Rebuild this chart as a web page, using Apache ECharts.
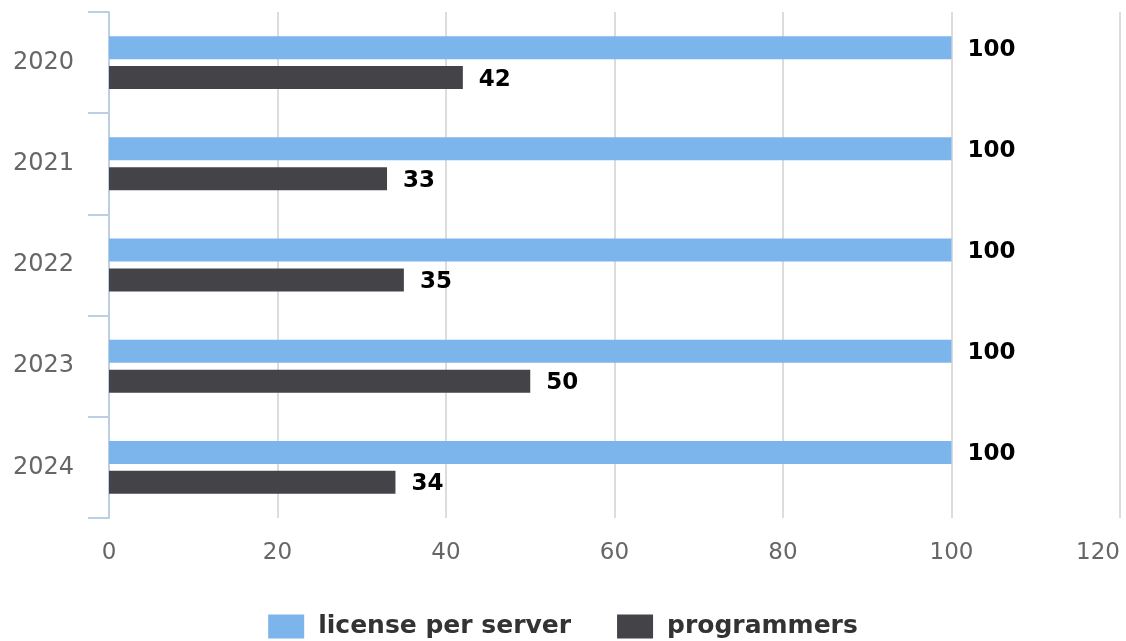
<!DOCTYPE html>
<html>
<head>
<meta charset="utf-8">
<style>
  html, body { margin: 0; padding: 0; background: #fff; }
  #main { width: 1126px; height: 641px; }
</style>
<script src="https://cdn.jsdelivr.net/npm/echarts@6/dist/echarts.min.js"></script>
</head>
<body>
<div id="main"></div>
<script>
// chart data
const years = ['2020', '2021', '2022', '2023', '2024'];
const licensePerServer = [100, 100, 100, 100, 100];
const programmers = [42, 33, 35, 50, 34];

const chart = echarts.init(document.getElementById('main'));

const barLabel = {
  show: true,
  position: 'right',
  distance: 16,
  color: '#000',
  fontWeight: 'bold',
  fontSize: 23,
  fontFamily: 'DejaVu Sans',
  offset: [0, 2]
};

chart.setOption({
  animation: false,
  textStyle: { fontFamily: 'DejaVu Sans' },
  grid: { left: 109, right: 6, top: 12, bottom: 123, outerBoundsMode: 'none', containLabel: false },
  legend: {
    top: 609,
    left: 'center',
    icon: 'rect',
    itemWidth: 36,
    itemHeight: 24,
    itemGap: 46,
    textStyle: { fontSize: 25, fontWeight: 'bold', color: '#333', padding: [0, 0, 0, 9] },
    data: ['license per server', 'programmers']
  },
  xAxis: {
    type: 'value',
    min: 0,
    max: 120,
    interval: 20,
    axisLine: { show: false },
    axisTick: { show: false },
    axisLabel: { fontSize: 23, color: '#666', margin: 24, alignMaxLabel: 'right' },
    splitLine: { lineStyle: { color: '#dcdcdc', width: 2 } }
  },
  yAxis: {
    type: 'category',
    inverse: true,
    data: years,
    axisLine: { show: true, lineStyle: { color: '#bccfe5', width: 2 } },
    axisTick: { show: true, length: 21, lineStyle: { color: '#bccfe5', width: 2 } },
    axisLabel: { fontSize: 24, color: '#666', margin: 35, padding: [10, 0, 0, 0] }
  },
  series: [
    {
      name: 'license per server',
      type: 'bar',
      data: licensePerServer,
      barWidth: 23,
      barGap: '30%',
      itemStyle: { color: '#7cb5ec' },
      label: barLabel
    },
    {
      name: 'programmers',
      type: 'bar',
      data: programmers,
      barWidth: 23,
      itemStyle: { color: '#434348' },
      label: barLabel
    }
  ]
});
</script>
</body>
</html>
